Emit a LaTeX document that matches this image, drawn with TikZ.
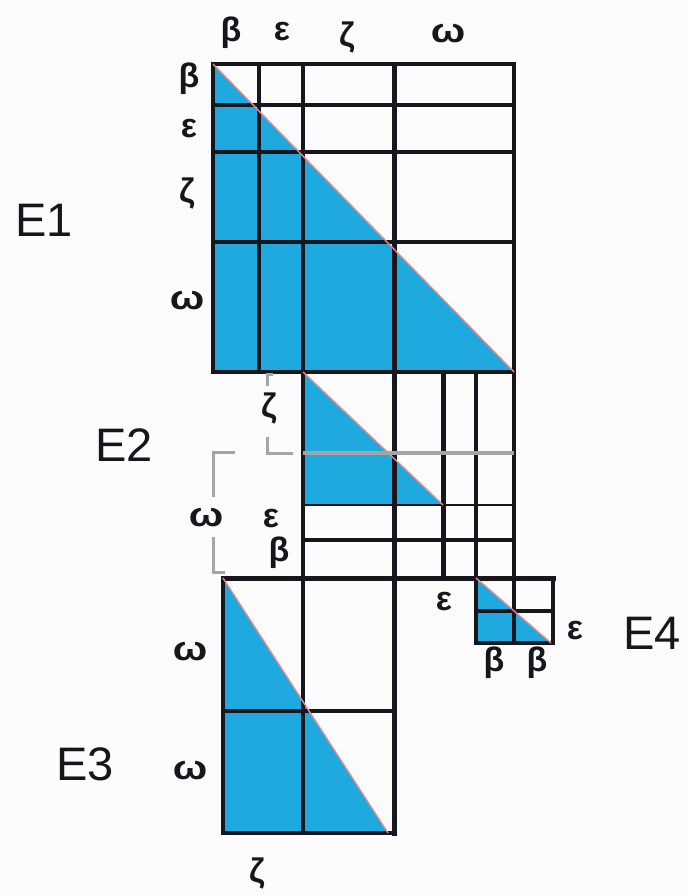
\documentclass[tikz,border=0pt]{standalone}
\usepackage{fontspec}
\setmainfont{Liberation Sans}
\definecolor{cblue}{RGB}{30,170,222}
\definecolor{cgray}{RGB}{165,165,165}
\definecolor{cpink}{RGB}{238,135,135}
\definecolor{cline}{RGB}{22,22,28}
\definecolor{cbg}{RGB}{252,252,252}
\begin{document}
\begin{tikzpicture}[x=1pt,y=-1pt,
  gridline/.style={line width=3.3pt, draw=cline, line cap=rect},
  thinline/.style={line width=2.8pt, draw=cline, line cap=rect},
  heavyline/.style={line width=5pt, draw=cline, line cap=rect},
  diagline/.style={draw=cpink, line width=1.4pt},
  shade/.style={fill=cblue},
  bracketline/.style={draw=cgray, line width=3pt},
  grayrule/.style={draw=cgray, line width=4pt},
  glabel/.style={font=\fontsize{34}{34}\selectfont\bfseries, text=cline, inner sep=0pt},
  wlabel/.style={glabel, xscale=1.2},
  elabel/.style={font=\fontsize{47}{47}\selectfont, text=cline, inner sep=0pt}]
\fill[cbg] (0,0) rectangle (687,895);
\useasboundingbox (0,0) rectangle (687,895);

% blue triangles
\fill[shade] (213,64) -- (514,372) -- (213,372) -- cycle;
\fill[shade] (303,372) -- (443,505) -- (303,505) -- cycle;
\fill[shade] (223,578) -- (388,833) -- (223,833) -- cycle;
\fill[shade] (476,578) -- (551,643) -- (476,643) -- cycle;

% E1 grid
\draw[gridline] (213,64) rectangle (514,372);
\draw[gridline] (259,64) -- (259,372);
\draw[gridline] (213,105) -- (514,105);
\draw[gridline] (213,152) -- (514,152);
\draw[gridline] (213,242) -- (514,242);
% long verticals
\draw[line width=4pt, draw=cline, line cap=rect] (303,64) -- (303,833);
\draw[heavyline] (394,64) -- (394,833);
% E2 grid
\draw[heavyline] (443,372) -- (443,578);
\draw[gridline] (476,372) -- (476,643);
\draw[gridline] (514,372) -- (514,643);
\draw[thinline] (303,505) -- (514,505);
\draw[gridline] (303,540) -- (514,540);
\draw[heavyline] (223,578) -- (553,578);
% E3 grid
\draw[gridline] (223,578) -- (223,833);
\draw[gridline] (223,711) -- (394,711);
\draw[gridline] (223,833) -- (394,833);
% E4 grid
\draw[gridline] (553,578) -- (553,643);
\draw[gridline] (476,611) -- (553,611);
\draw[gridline] (476,643) -- (553,643);

% diagonals
\draw[diagline] (213,64) -- (514,372);
\draw[diagline] (303,372) -- (443,505);
\draw[diagline] (223,578) -- (388,833);
\draw[diagline] (476,578) -- (551,643);

% gray rule and brackets
\draw[grayrule] (303,453) -- (514,453);
\draw[bracketline] (273,374) -- (267,374) -- (267,386);
\draw[bracketline] (267,437) -- (267,453) -- (293,453);
\draw[bracketline] (235,452) -- (213,452) -- (213,497);
\draw[bracketline] (213,537) -- (213,572) -- (225,572);

% top labels
\node[glabel] (tb) at (231,33) {β};
\node[glabel] (te) at (282,32) {ε};
\node[glabel] (tz) at (347,38) {ζ};
\node[wlabel] (tw) at (448,34) {ω};
% E1 left labels
\node[glabel] (lb) at (189,79) {β};
\node[glabel] (le) at (189,129) {ε};
\node[glabel] (lz) at (187,194) {ζ};
\node[wlabel] (lw) at (187,301) {ω};
% E2 labels
\node[glabel] (bz) at (269,409) {ζ};
\node[glabel] (be) at (271,519) {ε};
\node[glabel] (bb) at (279,553) {β};
\node[wlabel] (bw) at (206,518) {ω};
% E3 labels
\node[wlabel] (cw1) at (190,651) {ω};
\node[wlabel] (cw2) at (190,770) {ω};
\node[glabel] (cz) at (257,873) {ζ};
% E4 labels
\node[glabel] (de1) at (444,602) {ε};
\node[glabel] (de2) at (575,631) {ε};
\node[glabel] (db1) at (494,663) {β};
\node[glabel] (db2) at (537,663) {β};
% block names
\node[elabel] (E1) at (44,220) {E1};
\node[elabel] (E2) at (124,445) {E2};
\node[elabel] (E3) at (85,764) {E3};
\node[elabel] (E4) at (652,633) {E4};
\end{tikzpicture}
\end{document}
